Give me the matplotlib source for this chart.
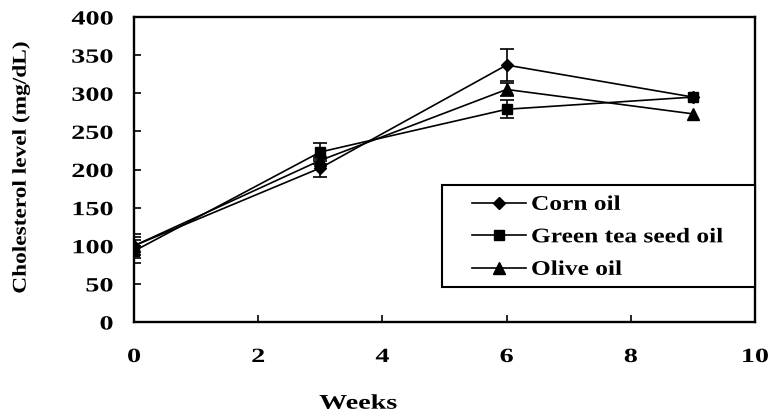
import numpy as np
import matplotlib
matplotlib.use("Agg")
import matplotlib.pyplot as plt
from matplotlib.lines import Line2D
from matplotlib.patches import Rectangle
from matplotlib.patheffects import AbstractPathEffect
from matplotlib.transforms import Affine2D

# cholesterol readings per diet group (mg/dL)
weeks = [0, 3, 6, 9]
corn_oil = [100, 202, 337, 295]
corn_err = [12, 12, 21, np.nan]
green_tea_oil = [93, 223, 279, 295]
green_tea_err = [15, 12, 12, np.nan]
olive_oil = [100, 212, 305, 273]
olive_err = [16, 5, 9, np.nan]

x_ticks = [0, 2, 4, 6, 8, 10]
y_ticks = [0, 50, 100, 150, 200, 250, 300, 350, 400]


class Stretch(AbstractPathEffect):
    """Widen glyphs horizontally, keeping one edge (or the centre) fixed."""

    def __init__(self, sx, anchor="center"):
        super().__init__()
        self.sx = sx
        self.anchor = anchor

    def draw_path(self, renderer, gc, tpath, affine, rgbFace=None):
        ext = tpath.get_extents()
        if self.anchor == "left":
            x0 = ext.x0
        elif self.anchor == "right":
            x0 = ext.x1
        else:
            x0 = (ext.x0 + ext.x1) / 2
        t = Affine2D().translate(-x0, 0).scale(self.sx, 1).translate(x0, 0) + affine
        renderer.draw_path(gc, tpath, t, rgbFace)


plt.rcParams["font.family"] = ["Liberation Serif", "DejaVu Serif"]
plt.rcParams["font.weight"] = "bold"

fig = plt.figure(figsize=(7.69, 4.17), dpi=100)
ax = fig.add_axes([0.1743, 0.2278, 0.8075, 0.7314])

series = [
    (corn_oil, corn_err, "D", 6.5, "Corn oil"),
    (green_tea_oil, green_tea_err, "s", 7.5, "Green tea seed oil"),
    (olive_oil, olive_err, "^", 8, "Olive oil"),
]
handles = []
for vals, errs, marker, ms, name in series:
    ax.errorbar(
        weeks, vals, yerr=errs, color="black", marker=marker, markersize=ms,
        linewidth=1.2, elinewidth=1.2, capsize=5, capthick=1.2,
    )
    handles.append(Line2D([], [], color="black", marker=marker, markersize=ms,
                          linewidth=1.2, label=name))

ax.set_xlim(0, 10)
ax.set_ylim(0, 400)
ax.set_xticks(x_ticks)
ax.set_yticks(y_ticks)
ax.tick_params(direction="in", length=5, width=1.2, labelsize=14.5)
ax.tick_params(axis="x", pad=18)
ax.tick_params(axis="y", pad=15)
for s in ax.spines.values():
    s.set_linewidth(1.7)

for lbl in ax.get_xticklabels():
    lbl.set_path_effects([Stretch(1.4, "center")])
for lbl in ax.get_yticklabels():
    lbl.set_path_effects([Stretch(1.4, "right")])

xl = ax.set_xlabel("Weeks", fontsize=15, fontweight="bold")
ax.xaxis.set_label_coords(0.361, -0.235)
xl.set_path_effects([Stretch(1.35, "center")])
yl = ax.set_ylabel("Cholesterol level (mg/dL)", fontsize=14, fontweight="bold")
ax.yaxis.set_label_coords(-0.168, 0.508)
yl.set_path_effects([Stretch(1.2, "center")])

# legend box sits against the right spine
ax.add_patch(Rectangle((0.496, 0.115), 0.504, 0.334, transform=ax.transAxes,
                       facecolor="white", edgecolor="black", linewidth=1.5,
                       zorder=4, clip_on=False))
leg = ax.legend(
    handles=handles, loc="upper left", bbox_to_anchor=(0.544, 0.417),
    borderaxespad=0, borderpad=0, frameon=False, fontsize=15,
    handlelength=2.6, handletextpad=0.25, labelspacing=0.6,
)
leg.set_zorder(5)
for t in leg.get_texts():
    t.set_fontweight("bold")
    t.set_path_effects([Stretch(1.22, "left")])

fig.savefig("out.png", dpi=100)
